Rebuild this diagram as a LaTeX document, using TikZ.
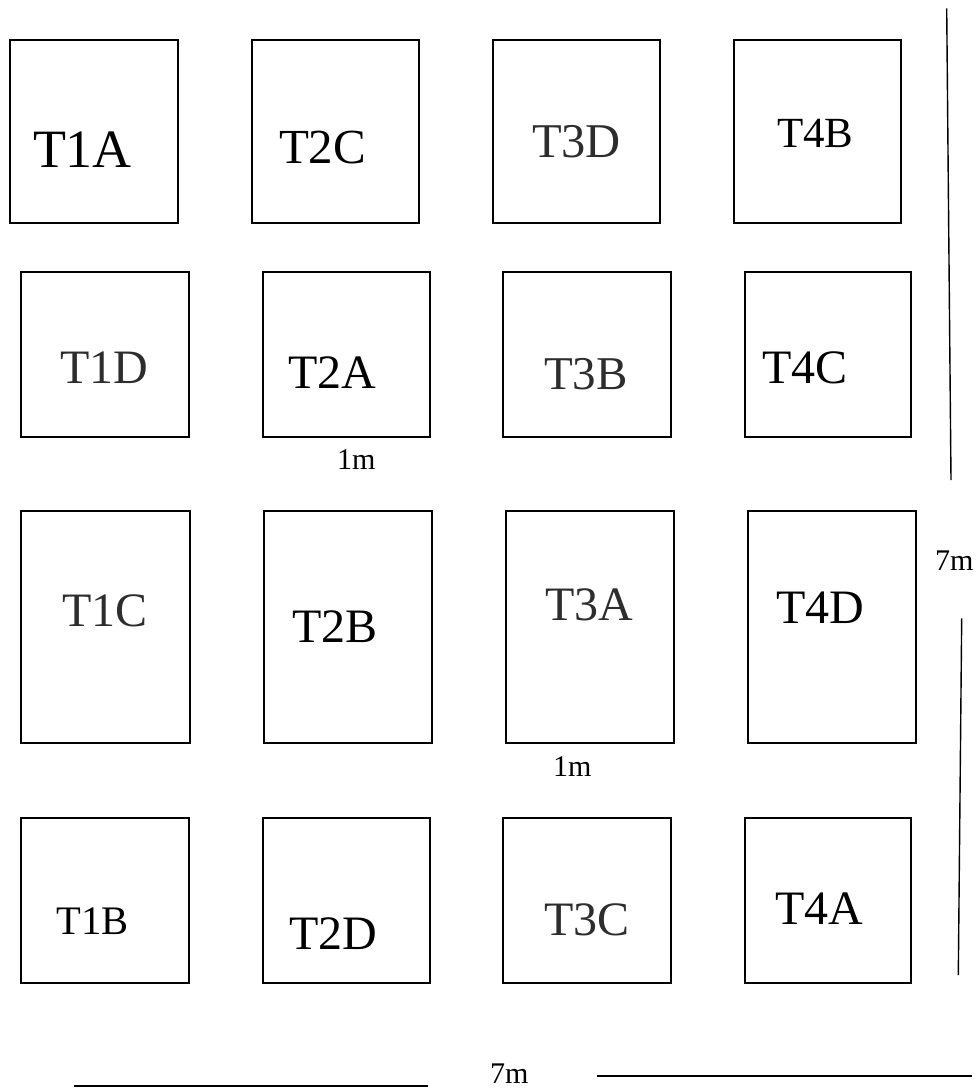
\documentclass[tikz,border=0pt]{standalone}
\usepackage{fontspec}
\setmainfont{Liberation Serif}
\definecolor{lblgray}{RGB}{45,45,45}
\tikzset{
  tbox/.style={draw=black, line width=2pt, inner sep=0pt, outer sep=0pt},
  row1/.style={minimum height=183.3pt},
  row2/.style={minimum height=165.3pt},
  row3/.style={minimum height=232pt},
  lbl/.style={anchor=base west, inner sep=0pt, outer sep=0pt, text=black},
  glbl/.style={lbl, text=lblgray},
  dimtxt/.style={anchor=base west, inner sep=0pt, outer sep=0pt, font=\fontsize{30}{30}\selectfont},
  dimline/.style={draw=black, line width=1.4pt},
}
\newcommand{\fsz}[1]{\fontsize{#1}{#1}\selectfont}
\begin{document}
\begin{tikzpicture}[x=1pt,y=-1pt]
\useasboundingbox (0,0) rectangle (980,1090);
% row 1
\node[tbox,row1,minimum width=168.8pt] (b1A) at (93.9,131.4) {};
\node[tbox,row1,minimum width=167.3pt] (b2C) at (335.4,131.4) {};
\node[tbox,row1,minimum width=167.6pt] (b3D) at (576.5,131.4) {};
\node[tbox,row1,minimum width=167.6pt] (b4B) at (817.5,131.4) {};
% row 2
\node[tbox,row2,minimum width=168.6pt] (b1D) at (105,354.4) {};
\node[tbox,row2,minimum width=167.6pt] (b2A) at (346.5,354.4) {};
\node[tbox,row2,minimum width=168pt] (b3B) at (587.3,354.4) {};
\node[tbox,row2,minimum width=166.6pt] (b4C) at (828,354.4) {};
% row 3
\node[tbox,row3,minimum width=169.6pt] (b1C) at (105.5,627) {};
\node[tbox,row3,minimum width=168.3pt] (b2B) at (348.2,627) {};
\node[tbox,row3,minimum width=168.6pt] (b3A) at (590,627) {};
\node[tbox,row3,minimum width=168.6pt] (b4D) at (832,627) {};
% row 4
\node[tbox,row2,minimum width=168.6pt] (b1B) at (105,900.4) {};
\node[tbox,row2,minimum width=167.6pt] (b2D) at (346.5,900.4) {};
\node[tbox,row2,minimum width=168pt] (b3C) at (587.3,900.4) {};
\node[tbox,row2,minimum width=166.6pt] (b4A) at (828,900.4) {};
% labels
\node[lbl,font=\fsz{54}] (l1A) at (33,167.7) {T1A};
\node[lbl,font=\fsz{49}] (l2C) at (279,163) {T2C};
\node[glbl,font=\fsz{48.5}] (l3D) at (532,157.3) {T3D};
\node[lbl,font=\fsz{43}] (l4B) at (777,147.7) {T4B};
\node[glbl,font=\fsz{48}] (l1D) at (60,383.3) {T1D};
\node[lbl,font=\fsz{48}] (l2A) at (288,388.3) {T2A};
\node[glbl,font=\fsz{47}] (l3B) at (544,389.3) {T3B};
\node[lbl,font=\fsz{48}] (l4C) at (762,383.3) {T4C};
\node[glbl,font=\fsz{48}] (l1C) at (62,626) {T1C};
\node[lbl,font=\fsz{48}] (l2B) at (292,642.3) {T2B};
\node[glbl,font=\fsz{48}] (l3A) at (545,620) {T3A};
\node[lbl,font=\fsz{48}] (l4D) at (776,623.3) {T4D};
\node[lbl,font=\fsz{40.5}] (l1B) at (56.5,934.3) {T1B};
\node[lbl,font=\fsz{48}] (l2D) at (289,949.3) {T2D};
\node[glbl,font=\fsz{48}] (l3C) at (544,935.7) {T3C};
\node[lbl,font=\fsz{48}] (l4A) at (775,924.3) {T4A};
% dimension texts
\node[dimtxt] (m1a) at (337,469) {1m};
\node[dimtxt] (m1b) at (553,776) {1m};
\node[dimtxt] (m7v) at (935,570.5) {7m};
\node[dimtxt] (m7h) at (490,1083) {7m};
% dimension lines
\coordinate (v1a) at (946.7,8.3);
\coordinate (v1b) at (951,480);
\coordinate (v2a) at (961.7,618.3);
\coordinate (v2b) at (958.3,975);
\coordinate (h1a) at (74,1086);
\coordinate (h1b) at (428,1086);
\coordinate (h2a) at (597,1076);
\coordinate (h2b) at (972,1076);
\draw[dimline] (v1a) -- (v1b);
\draw[dimline] (v2a) -- (v2b);
\draw[dimline,line width=2pt] (h1a) -- (h1b);
\draw[dimline,line width=1.7pt] (h2a) -- (h2b);
\end{tikzpicture}
\end{document}
